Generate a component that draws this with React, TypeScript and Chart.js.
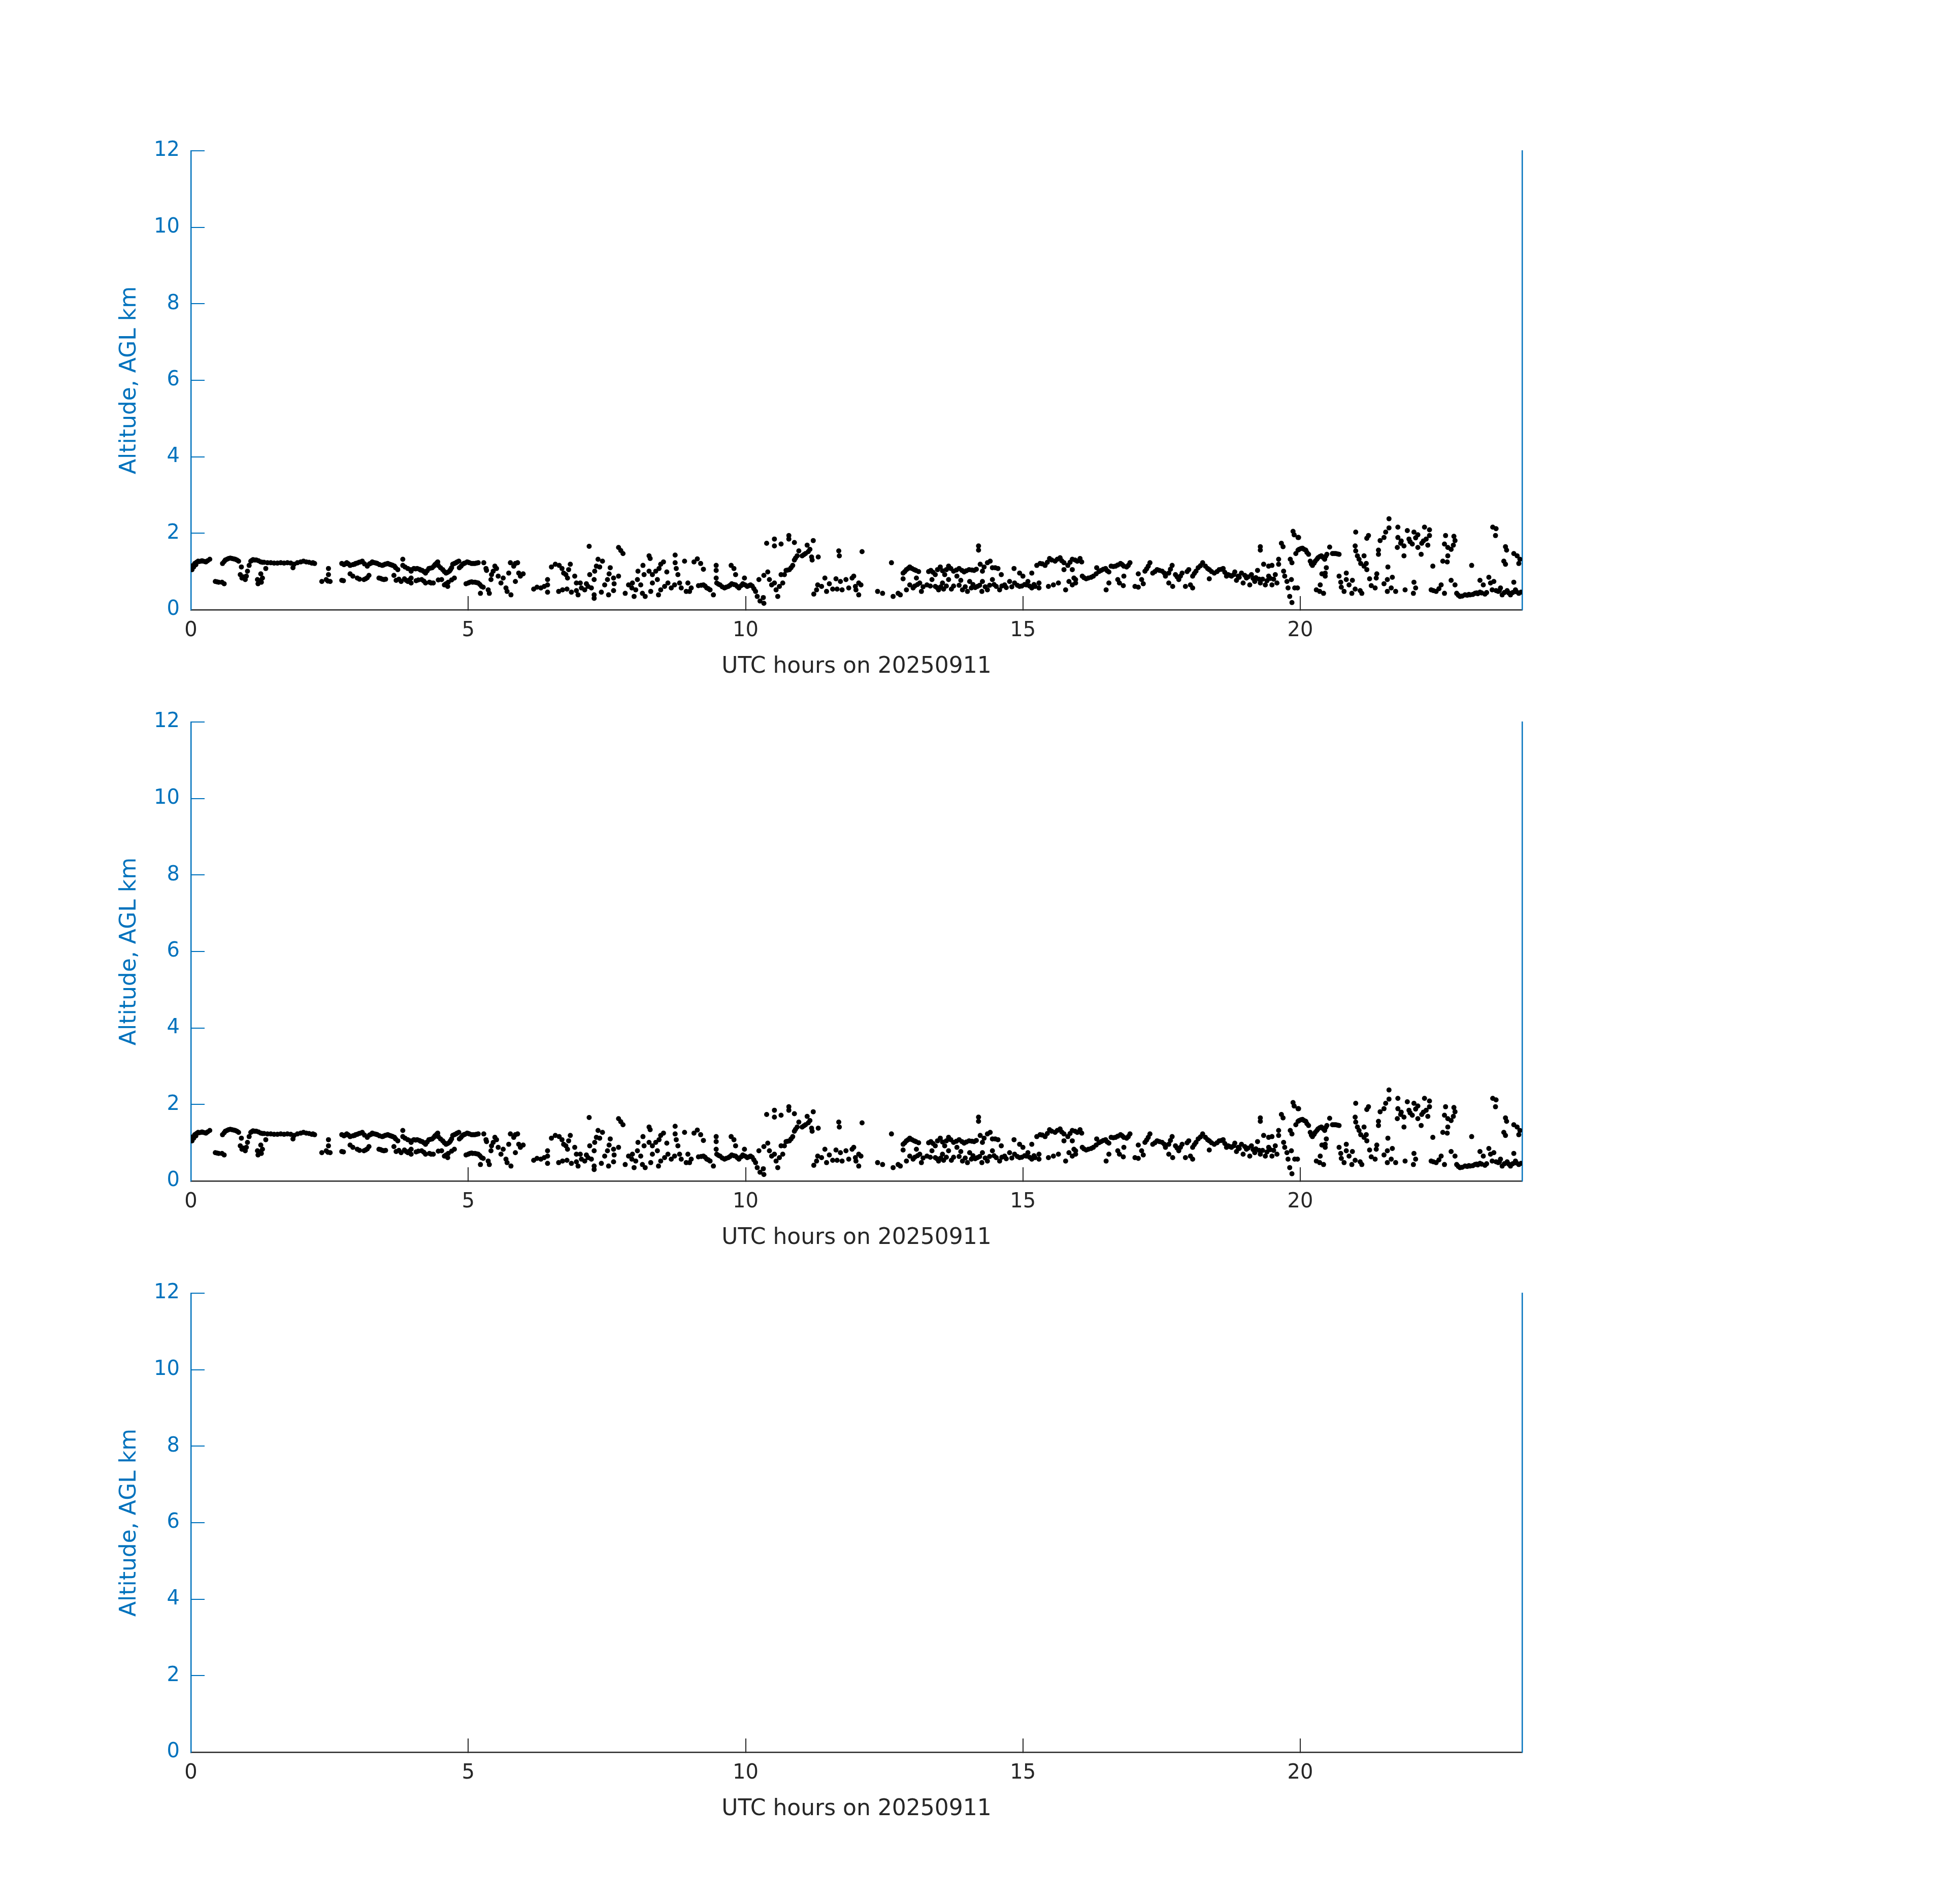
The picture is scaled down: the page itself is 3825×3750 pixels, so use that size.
import React, { useEffect, useRef } from "react";
import { Chart, registerables } from "chart.js";

Chart.register(...registerables);

// ---- Data: [UTC hour, altitude AGL km] ----
const block00to04: [number, number][] = [
  [0.02,1.05],[0.03,1.15],[0.07,1.21],[0.10,1.24],[0.13,1.27],[0.18,1.27],[0.22,1.27],[0.27,1.25],[0.34,1.32],
  [0.05,1.12],[0.09,1.18],[0.15,1.26],[0.20,1.28],[0.25,1.26],[0.30,1.28],
  [0.44,0.74],[0.47,0.73],[0.50,0.72],[0.56,0.72],[0.60,0.68],
  [0.57,1.21],[0.60,1.26],[0.62,1.30],[0.68,1.34],[0.74,1.34],[0.80,1.32],[0.86,1.27],
  [0.65,1.32],[0.71,1.35],[0.77,1.33],[0.83,1.30],
  [0.91,1.12],[0.89,0.92],[0.92,0.83],[0.95,0.86],[0.98,0.79],[1.00,0.88],[1.02,1.01],[1.05,1.16],[1.08,1.27],[1.12,1.31],[1.18,1.30],
  [1.10,1.29],[1.15,1.30],[1.22,1.28],[1.26,1.25],[1.29,1.24],
  [1.20,0.79],[1.21,0.68],[1.26,0.94],[1.29,0.83],[1.27,0.72],[1.24,0.76],
  [1.35,1.08],
  [1.32,1.24],[1.38,1.23],[1.44,1.23],[1.50,1.22],[1.56,1.22],[1.62,1.23],[1.68,1.22],[1.74,1.23],[1.80,1.22],[1.84,1.10],[1.86,1.19],
  [1.92,1.23],[1.98,1.25],[2.03,1.27],[2.08,1.25],[2.13,1.24],[2.18,1.22],[2.23,1.21],[2.20,1.23],
  [2.36,0.74],[2.44,0.79],[2.48,1.08],[2.48,0.92],[2.51,0.74],[2.47,0.75],
  [2.72,0.77],[2.75,0.76],
  [2.72,1.21],[2.76,1.18],[2.81,1.23],[2.84,1.20],[2.87,1.16],[2.92,1.18],[2.97,1.21],[3.03,1.24],[3.09,1.27],[3.13,1.20],
  [3.18,1.14],[3.22,1.20],[3.27,1.25],[3.31,1.23],[3.36,1.21],[3.40,1.18],[3.45,1.16],[3.50,1.19],[3.55,1.21],[3.60,1.18],
  [3.64,1.16],[3.69,1.10],[3.73,1.05],[3.82,1.32],[3.82,1.16],[3.86,1.12],[3.91,1.08],[3.97,1.01],
  [2.78,1.20],[2.95,1.19],[3.00,1.22],[3.06,1.25],[3.25,1.22],[3.34,1.22],[3.47,1.17],[3.53,1.20],[3.58,1.19],[3.62,1.17],[3.67,1.14],
  [2.87,0.94],[2.92,0.88],[3.00,0.83],[3.12,0.79],[3.15,0.81],[3.21,0.90],[3.39,0.83],[3.42,0.82],[3.48,0.79],[3.51,0.80],
  [3.66,0.90],[3.70,0.77],[3.75,0.80],[3.79,0.74],[3.85,0.81],[3.91,0.74],[3.97,0.83],
  [3.04,0.80],[3.18,0.84],[3.45,0.80],[3.88,0.77],[3.94,0.78],
];

const block04to08: [number, number][] = [
  [3.96,1.05],[4.02,1.08],[4.08,1.08],[4.12,1.06],[4.17,1.03],[4.23,0.96],[4.29,1.08],[4.35,1.10],[4.40,1.18],[4.45,1.25],
  [4.46,1.16],[4.50,1.10],[4.54,1.05],[4.60,0.96],[4.66,1.01],[4.70,1.10],[4.72,1.19],[4.78,1.23],[4.83,1.27],[4.84,1.10],
  [4.90,1.19],[4.94,1.22],[4.98,1.25],[5.02,1.23],[5.06,1.21],[5.12,1.21],[5.18,1.23],
  [4.05,1.07],[4.14,1.04],[4.20,1.00],[4.26,1.02],[4.32,1.09],[4.38,1.14],[4.43,1.22],[4.57,1.00],[4.63,0.98],[4.68,1.05],
  [4.75,1.21],[4.80,1.25],[4.87,1.14],[4.92,1.21],[5.00,1.24],[5.09,1.21],[5.15,1.22],
  [3.97,0.70],[4.16,0.79],[4.20,0.75],[4.23,0.70],[4.37,0.70],[4.52,0.79],[4.57,0.65],[4.63,0.61],[4.64,0.72],[4.75,0.83],
  [4.06,0.76],[4.10,0.78],[4.30,0.72],[4.33,0.70],[4.46,0.78],[4.60,0.68],[4.70,0.78],
  [4.96,0.68],[5.00,0.70],[5.03,0.72],[5.08,0.72],[5.12,0.72],[5.18,0.70],[5.24,0.61],[5.27,0.59],[5.22,0.43],
  [5.06,0.73],[5.15,0.71],[5.21,0.66],
  [5.28,1.23],
  [5.32,1.08],[5.33,1.03],[5.36,0.52],[5.38,0.43],[5.41,0.79],[5.42,0.92],[5.45,1.01],[5.48,1.14],[5.51,1.08],[5.54,0.88],
  [5.59,0.70],[5.63,0.83],[5.68,0.57],[5.70,0.48],[5.77,0.39],[5.73,0.96],[5.76,1.23],[5.82,1.14],[5.85,1.21],[5.89,1.23],
  [5.91,0.96],[5.94,0.88],[5.85,0.74],[5.99,0.94],
  [6.18,0.54],[6.24,0.59],[6.31,0.57],[6.37,0.61],[6.43,0.79],[6.43,0.65],[6.43,0.46],
  [6.50,1.12],[6.57,1.19],[6.64,1.16],[6.69,1.08],[6.72,0.96],[6.76,0.92],[6.79,0.83],[6.81,1.05],[6.84,1.19],[6.92,0.88],
  [6.63,0.48],[6.70,0.52],[6.78,0.54],[6.86,0.46],[6.95,0.50],[6.98,0.39],[7.04,0.57],[7.10,0.52],[7.16,0.61],[7.22,0.57],
  [7.27,0.39],[7.27,0.30],
  [6.95,0.70],[7.02,0.70],[7.13,0.68],
  [7.19,0.92],[7.28,1.01],[7.31,1.14],[7.34,1.32],[7.42,1.27],[7.37,1.12],[7.27,0.79],[7.18,1.66],
  [7.71,1.63],[7.79,1.47],[7.75,1.55],
  [7.56,1.10],[7.54,0.94],[7.51,0.79],[7.62,0.83],[7.71,0.88],[7.63,0.68],[7.46,0.65],[7.40,0.46],[7.53,0.39],[7.62,0.50],
  [7.83,0.43],[7.89,0.65],[7.95,0.57],
];

const block08to12: [number, number][] = [
  [7.96,0.70],[7.99,0.35],[8.02,0.52],[8.05,0.79],[8.06,1.01],[8.11,0.65],[8.14,0.43],[8.15,1.16],[8.19,0.35],[8.17,0.92],
  [8.26,1.41],[8.28,1.34],
  [8.26,1.01],[8.32,0.92],[8.38,1.01],[8.44,1.08],[8.47,1.19],[8.52,1.25],
  [8.32,0.70],[8.29,0.48],[8.41,0.79],[8.43,0.39],[8.47,0.52],[8.54,0.61],[8.58,0.99],[8.60,0.70],[8.66,0.57],[8.72,0.65],
  [8.73,1.43],[8.73,1.23],[8.75,1.08],[8.78,0.92],[8.81,0.70],[8.84,0.57],[8.90,1.27],[8.93,0.48],[8.96,0.70],[8.99,0.48],
  [9.02,0.57],[9.07,1.25],[9.13,1.33],[9.19,1.21],[9.24,1.06],
  [9.15,0.63],[9.20,0.64],[9.24,0.65],[9.30,0.57],[9.36,0.52],[9.42,0.39],[9.48,0.70],[9.54,0.65],[9.58,0.60],[9.62,0.57],
  [9.69,0.61],[9.75,0.68],[9.82,0.65],[9.88,0.57],[9.95,0.68],[10.03,0.61],[10.09,0.65],
  [9.27,0.62],[9.33,0.55],[9.51,0.67],[9.65,0.59],[9.72,0.64],[9.79,0.66],[9.85,0.61],[9.92,0.63],[9.99,0.65],[10.06,0.63],
  [10.12,0.62],[10.15,0.55],
  [9.47,1.16],[9.47,1.03],[9.47,0.83],[9.74,1.16],[9.79,1.08],[9.82,0.92],[9.98,0.83],
  [10.18,0.48],[10.21,0.35],[10.26,0.23],[10.33,0.17],[10.32,0.32],[10.24,0.79],[10.33,0.90],[10.40,0.99],[10.43,0.79],
  [10.47,0.65],[10.52,0.70],[10.55,0.52],[10.58,0.35],[10.61,0.61],[10.64,0.92],[10.67,0.70],[10.70,0.92],
  [10.73,1.03],[10.79,1.05],[10.85,1.16],[10.88,1.30],[10.93,1.41],[10.96,1.54],[11.02,1.41],[11.08,1.47],[11.11,1.69],
  [11.16,1.58],[11.19,1.38],[11.20,1.30],[11.22,1.81],[11.31,1.38],
  [11.05,1.44],[11.13,1.52],[10.90,1.35],[10.82,1.10],[10.76,1.04],
  [10.38,1.74],[10.52,1.85],[10.52,1.67],[10.64,1.72],[10.78,1.94],[10.78,1.85],[10.88,1.76],
  [11.68,1.54],[11.69,1.41],
  [11.23,0.41],[11.28,0.52],[11.30,0.65],[11.37,0.61],[11.43,0.83],[11.46,0.48],[11.51,0.68],[11.57,0.54],[11.63,0.81],
  [11.65,0.54],[11.71,0.74],[11.74,0.52],[11.81,0.79],[11.86,0.57],[11.92,0.83],[11.98,0.61],
];

const block12to16: [number, number][] = [
  [11.95,0.88],[11.99,0.52],[12.04,0.39],[12.08,0.65],[12.04,0.70],
  [12.10,1.52],
  [12.38,0.48],[12.47,0.43],
  [12.63,1.23],
  [12.66,0.35],[12.75,0.43],[12.79,0.39],
  [12.84,0.96],[12.90,1.05],[12.96,1.12],[13.07,1.03],[13.08,0.83],[13.34,1.03],[13.42,0.92],[13.51,1.12],[13.59,0.92],
  [13.66,1.14],[13.75,1.01],[13.85,1.08],[13.94,0.99],[14.03,1.05],[14.12,1.03],[14.20,1.67],[14.20,1.56],[14.23,1.19],
  [14.27,1.01],[14.36,1.23],[14.41,1.27],[14.45,1.10],[14.55,1.08],[14.61,0.92],[14.84,1.08],[14.94,0.96],[15.00,0.88],
  [12.87,1.00],[12.93,1.08],[13.00,1.08],[13.04,1.05],[13.12,1.00],[13.30,1.00],[13.38,0.98],[13.46,1.05],[13.55,1.02],
  [13.62,1.05],[13.70,1.08],[13.80,1.04],[13.90,1.03],[13.98,1.02],[14.08,1.04],[14.16,1.06],[14.30,1.12],[14.50,1.10],
  [12.84,0.81],[12.90,0.52],[12.96,0.65],[13.02,0.57],[13.14,0.70],[13.17,0.48],[13.27,0.65],[13.36,0.79],[13.42,0.61],
  [13.48,0.52],[13.57,0.54],[13.66,0.79],[13.71,0.54],[13.81,0.88],[13.88,0.77],[13.91,0.52],[14.00,0.48],[14.04,0.74],
  [14.07,0.57],[14.18,0.61],[14.26,0.48],[14.27,0.74],[14.36,0.52],[14.45,0.79],[14.52,0.61],[14.58,0.52],[14.67,0.65],
  [14.76,0.74],[14.85,0.70],[14.94,0.61],[15.09,0.74],[15.16,0.57],[15.22,0.61],[15.29,0.57],[15.29,0.70],
  [13.20,0.60],[13.55,0.70],[13.75,0.62],[14.10,0.66],[14.40,0.64],[14.70,0.58],[14.80,0.60],[15.03,0.66],
  [13.05,0.62],[13.10,0.66],[13.33,0.62],[13.45,0.58],[13.52,0.60],[13.62,0.62],[13.85,0.64],[13.96,0.60],[14.14,0.58],
  [14.22,0.64],[14.32,0.60],[14.48,0.66],[14.62,0.62],[14.90,0.64],[14.98,0.62],[15.06,0.65],[15.12,0.62],[15.20,0.66],
  [15.16,0.96],[15.25,1.16],[15.31,1.21],[15.40,1.16],[15.48,1.34],[15.58,1.27],[15.67,1.36],[15.74,1.23],[15.74,1.05],
  [15.81,1.16],[15.89,1.32],[15.89,1.05],[15.98,1.27],
  [15.35,1.20],[15.44,1.24],[15.52,1.30],[15.62,1.32],[15.70,1.28],[15.85,1.24],[15.94,1.30],
  [15.46,0.61],[15.55,0.65],[15.64,0.70],[15.77,0.52],[15.83,0.74],[15.89,0.65],[15.92,0.83],
];

const block16to20: [number, number][] = [
  [15.95,0.79],[15.95,0.70],[15.98,1.27],[16.03,1.34],[16.06,1.25],
  [16.07,0.88],[16.14,0.81],[16.23,0.85],[16.32,0.94],[16.33,1.10],[16.41,1.03],[16.49,1.08],[16.55,0.99],[16.59,1.14],
  [16.67,1.14],[16.76,1.21],[16.82,1.14],[16.87,1.12],[16.93,1.23],
  [16.10,0.84],[16.18,0.83],[16.27,0.88],[16.37,1.00],[16.45,1.06],[16.52,1.02],[16.63,1.13],[16.71,1.17],[16.79,1.18],[16.90,1.16],
  [16.50,0.52],[16.55,0.70],[16.71,0.79],[16.74,0.70],[16.81,0.63],[16.82,0.88],
  [17.02,0.61],[17.08,0.59],[17.08,0.94],[17.14,0.79],[17.17,0.68],[17.20,1.01],[17.26,1.14],[17.29,1.23],[17.34,0.96],
  [17.42,1.05],[17.51,1.01],[17.57,0.88],[17.63,0.96],[17.63,0.70],[17.69,1.16],[17.70,0.61],[17.75,0.92],[17.81,0.79],
  [17.87,0.96],[17.93,0.61],[17.99,1.05],[18.02,0.65],[18.06,0.57],[18.06,0.88],[18.12,1.01],[18.16,1.10],
  [17.23,1.07],[17.38,1.00],[17.46,1.03],[17.55,0.96],[17.66,1.06],[17.78,0.86],[17.84,0.88],[17.96,1.00],[18.09,0.95],
  [18.24,1.23],[18.29,1.14],[18.36,1.05],[18.36,0.81],[18.45,0.96],[18.54,1.05],[18.61,1.08],[18.67,0.88],[18.76,0.88],
  [18.82,0.99],[18.85,0.77],[18.94,0.96],[18.97,0.70],[19.03,0.83],[19.09,0.65],[19.12,0.92],[19.18,0.74],[19.23,1.03],
  [19.28,0.70],[19.37,0.65],[19.43,0.88],[19.49,0.65],[19.55,0.92],[19.58,0.70],
  [18.20,1.15],[18.33,1.08],[18.40,1.00],[18.50,1.00],[18.58,1.06],[18.64,0.98],[18.73,0.90],[18.80,0.92],[18.88,0.88],
  [19.06,0.86],[19.20,0.84],[19.26,0.80],[19.46,0.82],
  [18.70,0.92],[18.90,0.85],[19.00,0.90],[19.15,0.82],[19.32,0.80],[19.40,0.76],[19.52,0.80],
  [19.28,1.65],[19.28,1.56],[19.34,1.19],[19.43,1.14],[19.49,1.16],
  [19.61,1.32],[19.61,1.19],[19.66,1.74],[19.69,1.65],
  [19.70,1.01],[19.72,0.88],[19.76,0.74],[19.78,0.57],[19.81,0.35],[19.85,0.19],[19.84,0.79],[19.90,0.57],
  [19.82,1.32],[19.85,1.23],[19.92,1.47],[19.96,1.56],[19.87,2.05],[19.89,1.96],[19.96,1.89],
];

const block20to24: [number, number][] = [
  [19.97,1.89],[19.95,0.57],
  [19.98,1.58],[20.04,1.61],[20.10,1.56],[20.15,1.45],[20.18,1.27],[20.22,1.16],[20.27,1.27],[20.32,1.36],[20.38,1.41],
  [20.44,1.32],[20.48,1.45],[20.53,1.64],[20.58,1.47],[20.64,1.47],[20.70,1.45],
  [20.01,1.60],[20.07,1.58],[20.12,1.50],[20.20,1.20],[20.25,1.22],[20.30,1.32],[20.35,1.39],[20.41,1.37],[20.46,1.40],
  [20.61,1.47],[20.67,1.46],
  [20.47,1.10],[20.45,0.96],[20.39,0.94],[20.45,0.88],[20.36,0.65],[20.29,0.52],[20.35,0.48],[20.42,0.43],
  [20.70,0.88],[20.73,0.72],[20.74,0.59],[20.79,0.48],[20.83,0.96],[20.83,0.79],[20.88,0.65],[20.93,0.43],[20.94,0.77],
  [20.99,0.54],[21.08,0.50],[21.11,0.43],
  [21.00,2.03],[20.99,1.67],[21.00,1.54],[21.03,1.41],[21.06,1.32],[21.09,1.21],[21.15,1.41],[21.15,1.14],[21.19,1.21],
  [21.20,1.05],[21.25,0.81],[21.23,1.94],[21.20,1.87],
  [21.28,0.63],[21.35,0.57],[21.38,0.94],[21.37,0.83],[21.41,1.56],[21.41,1.45],[21.44,1.81],[21.51,1.89],[21.54,2.03],
  [21.60,2.38],[21.60,2.14],[21.58,1.12],[21.57,0.79],[21.51,0.68],[21.57,0.48],[21.66,0.85],[21.64,0.57],[21.72,0.48],
  [21.76,2.16],[21.76,1.89],[21.75,1.63],[21.81,1.74],[21.87,1.41],[21.87,1.67],[21.93,2.07],[21.96,1.85],[22.02,1.72],
  [22.05,2.03],[22.12,1.63],[22.12,1.96],[22.18,1.45],[22.19,1.74],[22.24,2.16],[22.27,1.85],[22.30,1.69],[22.33,2.09],
  [22.33,1.94],[21.82,1.80],[21.98,1.78],[22.08,1.88],[22.22,1.80],
  [21.89,0.52],[22.05,0.72],[22.08,0.57],[22.04,0.43],
  [22.39,1.14],[22.57,1.27],[22.62,1.94],[22.60,1.72],[22.66,1.63],[22.66,1.41],[22.72,1.58],[22.77,1.92],[22.79,1.81],
  [22.76,1.69],[22.65,1.25],
  [22.36,0.52],[22.45,0.48],[22.54,0.65],[22.60,0.43],[22.72,0.77],[22.79,0.65],[22.82,0.43],[22.88,0.35],[22.97,0.39],
  [23.06,0.39],[23.15,0.43],[23.24,0.46],[23.30,0.65],[23.33,0.41],[23.40,0.85],[23.43,0.70],[23.49,0.74],[23.53,0.50],
  [23.61,0.57],[23.64,0.39],[23.73,0.50],[23.79,0.39],[23.85,0.72],[23.88,0.52],[23.94,0.43],[23.24,0.77],
  [22.92,0.36],[23.01,0.38],[23.11,0.40],[23.20,0.42],[23.57,0.48],[23.68,0.45],[23.83,0.45],[23.98,0.46],
  [22.40,0.50],[22.50,0.55],[22.85,0.38],[23.04,0.40],[23.18,0.44],[23.27,0.44],[23.36,0.45],[23.46,0.52],[23.59,0.50],
  [23.76,0.44],[23.90,0.47],
  [23.09,1.16],[23.47,2.16],[23.53,2.12],[23.52,1.94],[23.70,1.65],[23.72,1.56],[23.67,1.27],[23.70,1.19],[23.85,1.47],
  [23.91,1.41],[23.96,1.32],[23.94,1.21],
];

const xTickValues = [0, 5, 10, 15, 20];
const yTickValues = [0, 2, 4, 6, 8, 10, 12];
const xAxisTitle = "UTC hours on 20250911";
const yAxisTitle = "Altitude, AGL km";

const BLUE = "#0072BD";
const DARK = "#262626";
const FONT = "'DejaVu Sans', sans-serif";

const CANVAS_W = 3825;
const CANVAS_H = 1125;
const PANEL_TOP = 250;

function buildOptions(): any {
  return {
    responsive: false,
    animation: false,
    devicePixelRatio: 1,
    events: [],
    layout: { padding: { left: 0, right: 827, top: 47, bottom: 0 } },
    plugins: { legend: { display: false }, tooltip: { enabled: false } },
    scales: {
      x: {
        type: "linear",
        position: "bottom",
        min: 0,
        max: 24,
        afterBuildTicks: (s: any) => { s.ticks = xTickValues.map((v) => ({ value: v })); },
        afterFit: (s: any) => { s.height = 174; s.paddingLeft = 0; s.paddingRight = 0; },
        ticks: { color: DARK, font: { family: FONT, size: 40 }, padding: 45, maxRotation: 0, autoSkip: false },
        grid: { drawOnChartArea: false, drawTicks: true, tickLength: -27, color: DARK, lineWidth: 2 },
        border: { color: DARK, width: 2.5 },
        title: { display: true, text: xAxisTitle, color: DARK, font: { family: FONT, size: 44 }, padding: { top: 0, bottom: 35 } },
      },
      y: {
        type: "linear",
        position: "left",
        min: 0,
        max: 12,
        afterBuildTicks: (s: any) => { s.ticks = yTickValues.map((v) => ({ value: v })); },
        afterFit: (s: any) => { s.width = 376; s.paddingTop = 0; s.paddingBottom = 0; },
        ticks: { color: BLUE, font: { family: FONT, size: 40 }, padding: 49 },
        grid: { drawOnChartArea: false, drawTicks: true, tickLength: -27, color: BLUE, lineWidth: 2 },
        border: { color: BLUE, width: 2.5 },
        title: { display: true, text: yAxisTitle, color: BLUE, font: { family: FONT, size: 44 }, padding: { top: 229, bottom: 0 } },
      },
      y2: {
        type: "linear",
        position: "right",
        min: 0,
        max: 12,
        display: true,
        afterFit: (s: any) => { s.width = 0; s.paddingTop = 0; s.paddingBottom = 0; },
        ticks: { display: false },
        grid: { display: false },
        border: { display: true, color: BLUE, width: 2.5 },
      },
    },
  };
}

function Panel({ top, withData }: { top: number; withData: boolean }) {
  const ref = useRef<HTMLCanvasElement | null>(null);
  useEffect(() => {
    if (!ref.current) return;
    const all = [...block00to04, ...block04to08, ...block08to12, ...block12to16, ...block16to20, ...block20to24];
    const chart = new Chart(ref.current, {
      type: "scatter",
      data: {
        datasets: [
          {
            data: withData ? all.map(([h, km]) => ({ x: h, y: km })) : [],
            backgroundColor: "#000000",
            borderWidth: 0,
            pointRadius: 5,
            pointHoverRadius: 5,
          },
        ],
      },
      options: buildOptions(),
    });
    return () => chart.destroy();
  }, [withData]);
  return (
    <canvas
      ref={ref}
      width={CANVAS_W}
      height={CANVAS_H}
      style={{ position: "absolute", left: 0, top, width: CANVAS_W, height: CANVAS_H }}
    />
  );
}

export default function App() {
  return (
    <div style={{ position: "absolute", left: 0, top: 0, width: 3825, height: 3750, background: "#ffffff", fontFamily: FONT }}>
      <Panel top={PANEL_TOP} withData={true} />
      <Panel top={PANEL_TOP + 1125} withData={true} />
      <Panel top={PANEL_TOP + 2250} withData={false} />
    </div>
  );
}
